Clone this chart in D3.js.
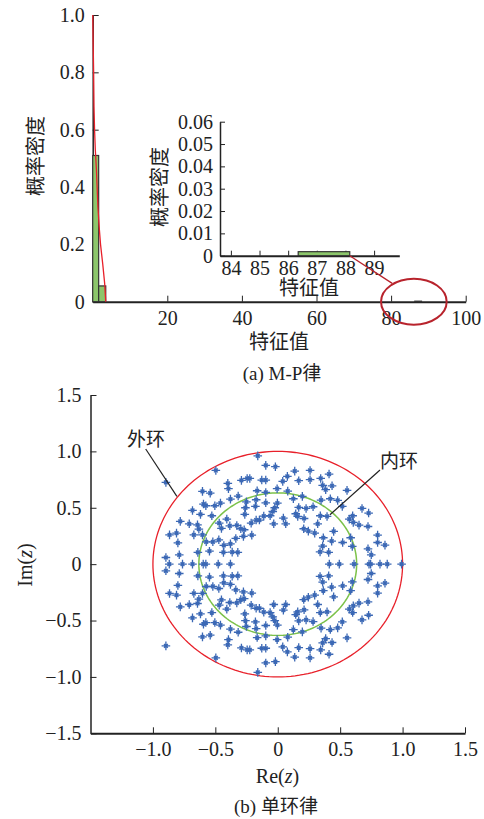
<!DOCTYPE html>
<html>
<head>
<meta charset="utf-8">
<script src="https://cdn.jsdelivr.net/npm/d3@7"></script>
<style>
  body { margin: 0; background: #fff; }
  svg { display: block; }
  text { font-family: "Liberation Serif", "Times New Roman", "Noto Sans CJK SC", serif; fill: #222; }
  .axis path, .axis line { stroke: #222; }
  .axis text { font-size: 20px; font-family: "Liberation Serif", "Times New Roman", serif; fill: #222; }
</style>
</head>
<body>
<svg id="chart" width="484" height="819"></svg>
<script>
// ---- (a) histogram of eigenvalues with M-P density ----
const histBins = [[0, 1.6], [1.6, 3.5], [86.35, 88.15]]
const histDensity = [0.51, 0.055, 0.0018]
const mpX = [0.02, 0.12, 0.25, 0.35, 0.5, 0.7, 1.0, 1.4, 1.8, 2.1, 2.7, 3.2, 3.5]
const mpY = [1.0, 0.9, 0.8, 0.68, 0.6, 0.53, 0.46, 0.33, 0.25, 0.2, 0.13, 0.065, 0.0]
const mainXTicks = [20, 40, 60, 80, 100]
const mainYTicks = [0, 0.2, 0.4, 0.6, 0.8, 1.0]
const insetXTicks = [84, 85, 86, 87, 88, 89]
const insetYTicks = [0, 0.01, 0.02, 0.03, 0.04, 0.05, 0.06]

// ---- (b) eigenvalues in the complex plane (upper half; lower half = conjugates) ----
const eigRe = [-0.16, -0.096, -0.019, -0.496, 0.136, 0.259, 0.411, 0.077, -0.40, -0.395,
  -0.291, -0.245, -0.224, -0.128, -0.096, 0.04, 0.168, 0.259, 0.344, 0.36,
  0.435, 0.384, -0.603, -0.541, -0.165, -0.096, -0.005, 0.08, 0.555, -0.896,
  -0.595, -0.576, -0.504, -0.459, -0.379, -0.317, -0.251, -0.259, -0.179, -0.173,
  -0.096, -0.024, -0.003, 0.125, 0.197, 0.168, 0.227, 0.283, 0.347, 0.421,
  0.48, 0.517, 0.675, 0.728, -0.683, -0.619, -0.781, -0.709, -0.672, -0.867,
  -0.811, -0.80, -0.643, -0.632, -0.528, -0.469, -0.451, -0.408, -0.384, -0.328,
  -0.296, -0.213, -0.264, -0.173, -0.147, -0.112, -0.061, -0.04, -0.032, 0.064,
  0.045, 0.144, 0.16, 0.211, 0.32, 0.341, 0.395, 0.573, 0.6, 0.605,
  0.651, 0.723, 0.80, 0.80, 0.859, 0.723, 0.749, -0.603, -0.573, -0.52,
  -0.472, -0.432, -0.435, -0.379, -0.336, -0.275, -0.269, -0.208, -0.365, -0.32,
  0.208, 0.245, 0.296, 0.365, 0.36, 0.339, 0.408, 0.448, 0.432, 0.52,
  0.584, 0.597, -0.896, -0.64, -0.547, -0.789]
const eigIm = [0.96, 0.876, 0.864, 0.831, 0.825, 0.831, 0.799, 0.778, 0.716, 0.669,
  0.743, 0.76, 0.76, 0.746, 0.746, 0.734, 0.74, 0.749, 0.76, 0.698,
  0.695, 0.66, 0.645, 0.63, 0.651, 0.636, 0.669, 0.648, 0.654, 0.725,
  0.533, 0.518, 0.518, 0.541, 0.577, 0.604, 0.553, 0.5, 0.512, 0.571,
  0.544, 0.5, 0.541, 0.58, 0.601, 0.503, 0.494, 0.509, 0.568, 0.58,
  0.565, 0.512, 0.494, 0.453, 0.476, 0.441, 0.379, 0.358, 0.26, 0.26,
  0.275, 0.189, 0.349, 0.311, 0.429, 0.364, 0.317, 0.399, 0.34, 0.343,
  0.314, 0.364, 0.441, 0.391, 0.391, 0.426, 0.429, 0.467, 0.358, 0.358,
  0.408, 0.447, 0.423, 0.405, 0.358, 0.429, 0.423, 0.399, 0.429, 0.37,
  0.346, 0.334, 0.257, 0.192, 0.169, 0.136, 0.083, 0.26, 0.198, 0.198,
  0.216, 0.166, 0.104, 0.18, 0.228, 0.246, 0.305, 0.257, 0.107, 0.104,
  0.314, 0.293, 0.275, 0.234, 0.16, 0.109, 0.104, 0.29, 0.204, 0.192,
  0.234, 0.157, 0.059, 0.104, 0.115, 0.083]
const eigRealOnly = [-0.869, -0.763, -0.683, -0.597, -0.576, -0.477, -0.379,
  0.413, 0.493, 0.611, 0.731, 0.744, 0.819, 0.877, 0.992]
const innerRadius = 0.632
const outerRadius = 1.0
const planeTicks = [-1.5, -1.0, -0.5, 0, 0.5, 1.0, 1.5]

const svg = d3.select('#chart')
const green = '#8cc66b'
const tickLen = 6

const fmt1 = d => d === 0 ? '0' : d3.format('.1f')(d)
const fmt2 = d => d === 0 ? '0' : d3.format('.2f')(d)
const fmtInt = d3.format('d')

// ===== panel (a) =====
const xA = d3.scaleLinear().domain([0, 100]).range([92.7, 465.7])
const yA = d3.scaleLinear().domain([0, 1]).range([301.7, 15])

svg.append('g')
  .attr('class', 'axis')
  .attr('transform', `translate(0, ${ yA(0) })`)
  .call(d3.axisBottom(xA).tickValues(mainXTicks).tickFormat(fmtInt).tickSizeInner(-tickLen).tickSizeOuter(0).tickPadding(9))
  .call(g => g.select('.domain').attr('stroke-width', 2))
svg.append('g')
  .attr('class', 'axis')
  .attr('transform', `translate(${ xA(0) }, 0)`)
  .call(d3.axisLeft(yA).tickValues(mainYTicks).tickFormat(fmt1).tickSizeInner(-tickLen).tickSizeOuter(0).tickPadding(8))
  .call(g => g.select('.domain').attr('stroke-width', 1.5))

svg.append('g')
  .selectAll('rect')
  .data(histBins.map((b, i) => ({ x0: b[0], x1: b[1], v: histDensity[i] })))
  .enter()
  .append('rect')
  .attr('x', d => xA(d.x0))
  .attr('y', d => yA(d.v))
  .attr('width', d => xA(d.x1) - xA(d.x0))
  .attr('height', d => yA(0) - yA(d.v))
  .style('fill', green)
  .style('stroke', '#333')
  .style('stroke-width', 1.2)

svg.append('path')
  .datum(mpX.map((x, i) => [x, mpY[i]]))
  .attr('d', d3.line().x(d => xA(d[0])).y(d => yA(d[1])))
  .style('fill', 'none')
  .style('stroke', '#e8202a')
  .style('stroke-width', 1.3)

// highlight ellipse round the outlier
const ellCx = 86.1
const ellRx = 8.8
const ellRy = 0.08
svg.append('ellipse')
  .attr('cx', xA(ellCx))
  .attr('cy', yA(0))
  .attr('rx', xA(ellCx + ellRx) - xA(ellCx))
  .attr('ry', yA(0) - yA(ellRy))
  .style('fill', 'none')
  .style('stroke', '#b8232c')
  .style('stroke-width', 2)

svg.append('text')
  .attr('transform', 'translate(36, 156) rotate(-90)')
  .attr('text-anchor', 'middle')
  .attr('dominant-baseline', 'central')
  .style('font-size', '20px')
  .text('概率密度')
svg.append('text')
  .attr('x', 279).attr('y', 349)
  .attr('text-anchor', 'middle')
  .style('font-size', '20px')
  .text('特征值')
svg.append('text')
  .attr('x', 282).attr('y', 380)
  .attr('text-anchor', 'middle')
  .style('font-size', '19px')
  .text('(a)  M-P律')

// inset
const xI = d3.scaleLinear().domain([83.62, 89.88]).range([220, 399.3])
const yI = d3.scaleLinear().domain([0, 0.06]).range([255.7, 121.7])

svg.append('g')
  .attr('class', 'axis')
  .attr('transform', `translate(0, ${ yI(0) })`)
  .call(d3.axisBottom(xI).tickValues(insetXTicks).tickFormat(fmtInt).tickSizeInner(-5).tickSizeOuter(0).tickPadding(5))
  .call(g => g.select('.domain').attr('stroke-width', 2))
svg.append('g')
  .attr('class', 'axis')
  .attr('transform', `translate(${ xI.range()[0] }, 0)`)
  .call(d3.axisLeft(yI).tickValues(insetYTicks).tickFormat(fmt2).tickSizeInner(-5).tickSizeOuter(0).tickPadding(7))
  .call(g => g.select('.domain').attr('stroke-width', 1.5))

const outlier = { x0: histBins[2][0], x1: histBins[2][1], v: histDensity[2] }
svg.append('rect')
  .attr('x', xI(outlier.x0))
  .attr('y', yI(outlier.v))
  .attr('width', xI(outlier.x1) - xI(outlier.x0))
  .attr('height', yI(0) - yI(outlier.v))
  .style('fill', green)
  .style('stroke', '#333')
  .style('stroke-width', 1.2)

// connector from inset bar to the ellipse
svg.append('line')
  .attr('x1', xI(outlier.x1)).attr('y1', yI(0))
  .attr('x2', xA(80.3)).attr('y2', yA(0.064))
  .style('stroke', '#b8232c')
  .style('stroke-width', 1.3)

svg.append('text')
  .attr('transform', 'translate(160, 187) rotate(-90)')
  .attr('text-anchor', 'middle')
  .attr('dominant-baseline', 'central')
  .style('font-size', '20px')
  .text('概率密度')
svg.append('text')
  .attr('x', 309).attr('y', 295)
  .attr('text-anchor', 'middle')
  .style('font-size', '20px')
  .text('特征值')

// ===== panel (b) =====
const xB = d3.scaleLinear().domain([-1.5, 1.5]).range([90.5, 465])
const yB = d3.scaleLinear().domain([-1.5, 1.5]).range([733.3, 395])

svg.append('g')
  .attr('class', 'axis')
  .attr('transform', `translate(0, ${ yB(-1.5) })`)
  .call(d3.axisBottom(xB).tickValues(planeTicks.slice(1)).tickFormat(fmt1).tickSizeInner(-tickLen).tickSizeOuter(0).tickPadding(9))
  .call(g => g.select('.domain').attr('stroke-width', 2))
svg.append('g')
  .attr('class', 'axis')
  .attr('transform', `translate(${ xB(-1.5) }, 0)`)
  .call(d3.axisLeft(yB).tickValues(planeTicks).tickFormat(fmt1).tickSizeInner(-tickLen).tickSizeOuter(0).tickPadding(9))
  .call(g => g.select('.domain').attr('stroke-width', 1.5))

const ring = r => d3.range(0, 361, 2).map(a => [r * Math.cos(a * Math.PI / 180), r * Math.sin(a * Math.PI / 180)])
const ringLine = d3.line().x(d => xB(d[0])).y(d => yB(d[1]))
svg.append('path')
  .attr('d', ringLine(ring(outerRadius)))
  .style('fill', 'none').style('stroke', '#e8202a').style('stroke-width', 1.3)
svg.append('path')
  .attr('d', ringLine(ring(innerRadius)))
  .style('fill', 'none').style('stroke', '#7cc24a').style('stroke-width', 1.5)

const points = []
eigRe.forEach((re, i) => {
  points.push([re, eigIm[i]])
  points.push([re, -eigIm[i]])
})
eigRealOnly.forEach(re => points.push([re, 0]))

const star = 'M-4.3,0H4.3M0,-4.3V4.3M-1.9,-1.9L1.9,1.9M-1.9,1.9L1.9,-1.9'
svg.append('g')
  .selectAll('path')
  .data(points)
  .enter()
  .append('path')
  .attr('transform', d => `translate(${ xB(d[0]) }, ${ yB(d[1]) })`)
  .attr('d', star)
  .style('fill', 'none')
  .style('stroke', '#3b68b5')
  .style('stroke-width', 1.3)

// ring labels
svg.append('line')
  .attr('x1', 145.7).attr('y1', 449)
  .attr('x2', xB(-0.808)).attr('y2', yB(0.601))
  .style('stroke', '#222').style('stroke-width', 1.2)
svg.append('text')
  .attr('x', 146).attr('y', 446)
  .attr('text-anchor', 'middle')
  .style('font-size', '19px')
  .text('外环')
svg.append('line')
  .attr('x1', 380).attr('y1', 470)
  .attr('x2', xB(0.418)).attr('y2', yB(0.438))
  .style('stroke', '#222').style('stroke-width', 1.2)
svg.append('text')
  .attr('x', 399).attr('y', 468)
  .attr('text-anchor', 'middle')
  .style('font-size', '19px')
  .text('内环')

const reLabel = svg.append('text')
  .attr('x', 277.5).attr('y', 783)
  .attr('text-anchor', 'middle')
  .style('font-size', '20px')
reLabel.append('tspan').text('Re(')
reLabel.append('tspan').style('font-style', 'italic').text('z')
reLabel.append('tspan').text(')')

const imLabel = svg.append('text')
  .attr('transform', 'translate(25, 565) rotate(-90)')
  .attr('text-anchor', 'middle')
  .attr('dominant-baseline', 'central')
  .style('font-size', '20px')
imLabel.append('tspan').text('Im(')
imLabel.append('tspan').style('font-style', 'italic').text('z')
imLabel.append('tspan').text(')')

svg.append('text')
  .attr('x', 276).attr('y', 813)
  .attr('text-anchor', 'middle')
  .style('font-size', '19px')
  .text('(b)  单环律')
</script>
</body>
</html>
